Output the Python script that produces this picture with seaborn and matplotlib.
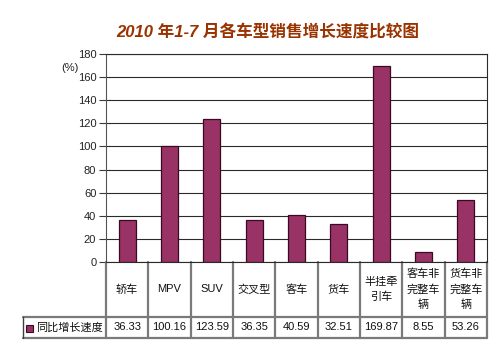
import matplotlib
matplotlib.use("Agg")
import matplotlib.pyplot as plt
import seaborn as sns
import pandas as pd
from matplotlib.lines import Line2D
from matplotlib.patches import Rectangle

categories = ["轿车", "MPV", "SUV", "交叉型", "客车", "货车", "半挂牵\n引车", "客车非\n完整车\n辆", "货车非\n完整车\n辆"]
values = [36.33, 100.16, 123.59, 36.35, 40.59, 32.51, 169.87, 8.55, 53.26]
value_labels = ["36.33", "100.16", "123.59", "36.35", "40.59", "32.51", "169.87", "8.55", "53.26"]
series_name = "同比增长速度"
title = "2010 年1-7 月各车型销售增长速度比较图"
yticks = [0, 20, 40, 60, 80, 100, 120, 140, 160, 180]

sns.set_theme(style="white")
plt.rcParams['font.family'] = ['Liberation Sans', 'Noto Sans CJK SC', 'DejaVu Sans']

W, H = 500, 350
fig = plt.figure(figsize=(W / 100, H / 100), dpi=100)
fig.patch.set_facecolor("white")

L, R, T, B = 106, 487, 54, 262
ax = fig.add_axes([L / W, (H - B) / H, (R - L) / W, (B - T) / H])

df = pd.DataFrame({"cat": range(len(values)), "val": values})
bar_color = "#993366"
sns.barplot(data=df, x="cat", y="val", color=bar_color, saturation=1, width=0.4,
            edgecolor="#3a0a25", linewidth=0.9, ax=ax)

ax.set_xlim(-0.5, len(values) - 0.5)
ax.set_ylim(0, 180)
ax.set_yticks(yticks)
ax.set_yticklabels([str(v) for v in yticks], fontsize=8, color="#222222")
ax.set_xticks([])
ax.set_xlabel("")
ax.set_ylabel("")
ax.yaxis.grid(True, color="#2a2a2a", linewidth=0.8)
ax.set_axisbelow(True)
ax.tick_params(axis="y", which="both", left=True, length=5, width=0.8, color="#3a3a3a", pad=2)
for s in ax.spines.values():
    s.set_color("#2a2a2a")
    s.set_linewidth(0.8)
ax.spines["left"].set_color("#555555")

# y-axis unit label
fig.text(70 / W, 1 - 68 / H, "(%)", fontsize=8, ha="center", va="center", color="#222222")

# title
fig.text(268 / W, 1 - 33 / H, title, fontsize=12, fontweight="bold", fontstyle="italic",
         ha="center", va="center", color="#993300")

# data table
n = len(values)
row1 = (B - 317) / (B - T)
row2 = (B - 338) / (B - T)
leg_left = (23 - L) / (R - L)
gcol = "#7a7a7a"
lw = 1.6
tr = ax.transAxes
lines = []
for k in range(n + 1):
    x = k / n
    lines.append(Line2D([x, x], [0, row2], transform=tr, color=gcol, lw=lw, clip_on=False))
lines.append(Line2D([leg_left, 1], [row1, row1], transform=tr, color=gcol, lw=lw, clip_on=False))
lines.append(Line2D([leg_left, 1], [row2, row2], transform=tr, color=gcol, lw=lw, clip_on=False))
lines.append(Line2D([leg_left, leg_left], [row1, row2], transform=tr, color="#404040", lw=1.0, clip_on=False))
for ln in lines:
    ax.add_artist(ln)

for i, (c, v) in enumerate(zip(categories, value_labels)):
    xc = (i + 0.5) / n
    ax.text(xc, row1 / 2, c, transform=tr, ha="center", va="center", fontsize=8,
            linespacing=1.55, color="#111111", clip_on=False)
    ax.text(xc, (row1 + row2) / 2, v, transform=tr, ha="center", va="center", fontsize=8,
            color="#111111", clip_on=False)

# legend key in table
fig.patches.append(Rectangle((26 / W, 1 - 332 / H), 7 / W, 7 / H, transform=fig.transFigure,
                             facecolor=bar_color, edgecolor="#3a0a25", linewidth=0.8))
fig.text(36 / W, 1 - 327.5 / H, series_name, fontsize=8, ha="left", va="center", color="#111111")

fig.savefig("out.png", dpi=100, facecolor="white")
